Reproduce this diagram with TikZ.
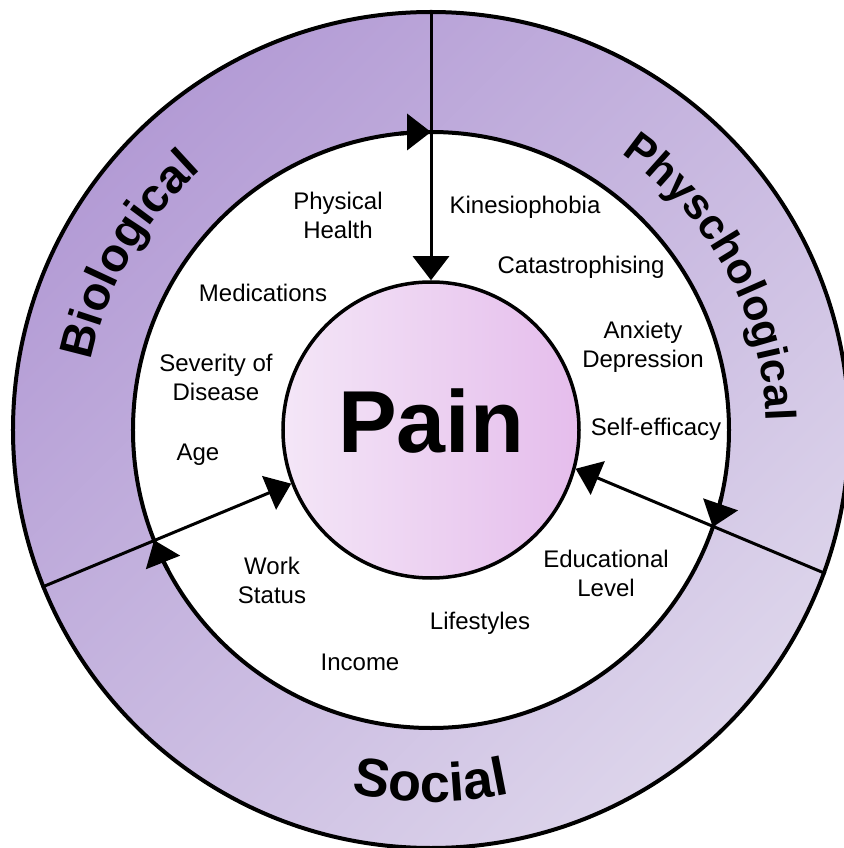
\documentclass[tikz,border=0pt]{standalone}
\usepackage{fontspec}
\setmainfont{Liberation Sans}
\usetikzlibrary{arrows.meta,decorations.text}

\definecolor{ringdark}{HTML}{B39BD5}
\definecolor{ringlight}{HTML}{DDD5EB}
\definecolor{painlight}{HTML}{F4E6F7}
\definecolor{paindark}{HTML}{E5BDEC}

\newcommand{\factorfont}{\fontsize{24}{29}\selectfont}
\newcommand{\painfont}{\fontsize{88}{88}\selectfont\bfseries}
\newcommand{\biofont}{\fontsize{47}{47}\selectfont\bfseries}
\newcommand{\psyfont}{\fontsize{43}{43}\selectfont\bfseries}
\newcommand{\socfont}{\fontsize{54}{54}\selectfont\bfseries}

\begin{document}
\begin{tikzpicture}[x=1pt, y=1pt,
	disc/.style={circle, draw=black, line width=4pt, inner sep=0pt, minimum size=#1},
	factor/.style={align=center, font=\factorfont},
	spoke/.style={line width=3pt, -{Triangle[length=24pt,width=36pt]}},
	flowtip/.style={line width=4pt, -{Triangle[length=24pt,width=36pt]}}]
	\useasboundingbox (-431,-418) rectangle (412,430);
	% three rings
	\node[disc=836, top color=ringdark, bottom color=ringlight, shading angle=45] (outer) at (0,0) {};
	\node[disc=596, fill=white] (inner) at (0,0) {};
	\node[disc=296, line width=3.5pt, left color=painlight, right color=paindark] (pain) at (0,0) {};
	\node[font=\painfont] (painlabel) at (0,9) {Pain};
	% ring titles
	\path[decorate, decoration={text along path, text align=center, text={|\biofont|Biological}}]
		(190:347) arc[start angle=190, end angle=110, radius=347];
	\path[decorate, decoration={text along path, text align=center, text={|\psyfont|Physchological}}]
		(73.5:335) arc[start angle=73.5, end angle=-16.5, radius=335];
	\path[decorate, decoration={text along path, text align=center, text={|\socfont|Social}}]
		(230:372) arc[start angle=230, end angle=310, radius=372];
	% spokes into the centre
	\draw[spoke] (outer.90) -- (pain.90);
	\draw[spoke] (outer.202) -- (pain.201);
	\draw[spoke] (outer.-20) -- (pain.-15);
	% clockwise tips on the inner circle
	\draw[flowtip] (96:298) arc[start angle=96, end angle=90, radius=298];
	\draw[flowtip] (208:298) arc[start angle=208, end angle=201.7, radius=298];
	\draw[flowtip] (-13:298) arc[start angle=-13, end angle=-19, radius=298];
	% factors
	\node[factor] (health) at (-93,215) {Physical\\Health};
	\node[factor] (meds) at (-168,137) {Medications};
	\node[factor] (severity) at (-215,53) {Severity of\\Disease};
	\node[factor] (age) at (-233,-25) {Age};
	\node[factor] (kinesio) at (94,223) {Kinesiophobia};
	\node[factor] (catast) at (150,163) {Catastrophising};
	\node[factor] (anxiety) at (212,83) {Anxiety\\Depression};
	\node[factor] (efficacy) at (225,1) {Self-efficacy};
	\node[factor] (education) at (175,-143) {Educational\\Level};
	\node[factor] (lifestyle) at (49,-193) {Lifestyles};
	\node[factor] (income) at (-71,-232) {Income};
	\node[factor] (work) at (-159,-150) {Work\\Status};
\end{tikzpicture}
\end{document}
